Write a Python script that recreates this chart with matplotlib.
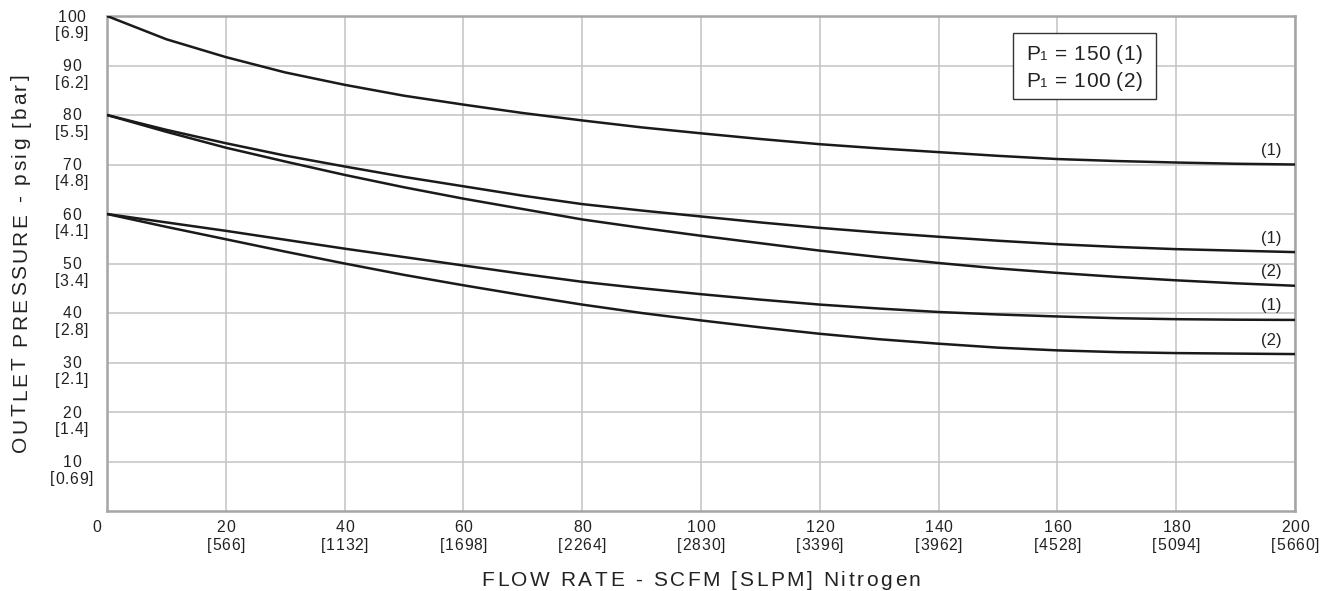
import matplotlib
matplotlib.use("Agg")
import matplotlib.pyplot as plt
from matplotlib.font_manager import FontProperties, findfont, get_font
from matplotlib.transforms import IdentityTransform
from matplotlib.patches import Rectangle

# ---------------- data ----------------
flow_scfm = [0, 10, 20, 30, 40, 50, 60, 70, 80, 90, 100, 110, 120, 130, 140, 150, 160, 170, 180, 190, 200]
p150_set100 = [100, 95.3, 91.7, 88.6, 86.1, 83.9, 82.1, 80.4, 78.9, 77.5, 76.3, 75.15, 74.1, 73.25, 72.5, 71.75, 71.1, 70.7, 70.4, 70.15, 70.0]
p150_set80 = [80, 77.0, 74.3, 71.8, 69.6, 67.5, 65.6, 63.7, 62.0, 60.7, 59.5, 58.3, 57.2, 56.25, 55.4, 54.6, 53.9, 53.35, 52.9, 52.6, 52.3]
p100_set80 = [80, 76.6, 73.4, 70.6, 67.9, 65.4, 63.1, 61.0, 58.9, 57.2, 55.6, 54.1, 52.6, 51.3, 50.1, 49.0, 48.1, 47.3, 46.6, 46.0, 45.5]
p150_set60 = [60, 58.3, 56.6, 54.8, 53.0, 51.3, 49.6, 47.9, 46.3, 45.0, 43.8, 42.7, 41.7, 40.9, 40.2, 39.7, 39.3, 38.95, 38.75, 38.65, 38.6]
p100_set60 = [60, 57.4, 54.9, 52.4, 50.0, 47.7, 45.6, 43.6, 41.7, 40.0, 38.5, 37.1, 35.8, 34.7, 33.8, 33.0, 32.45, 32.1, 31.9, 31.8, 31.7]
series = [p150_set100, p150_set80, p100_set80, p150_set60, p100_set60]
series_tags = ["(1)", "(1)", "(2)", "(1)", "(2)"]

x_tick_vals = [20, 40, 60, 80, 100, 120, 140, 160, 180, 200]
x_tick_slpm = ["[566]", "[1132]", "[1698]", "[2264]", "[2830]", "[3396]", "[3962]", "[4528]", "[5094]", "[5660]"]
y_tick_vals = [10, 20, 30, 40, 50, 60, 70, 80, 90, 100]
y_tick_bar = ["[0.69]", "[1.4]", "[2.1]", "[2.8]", "[3.4]", "[4.1]", "[4.8]", "[5.5]", "[6.2]", "[6.9]"]
legend_lines = [("150", "(1)"), ("100", "(2)")]

x_title = "FLOW RATE - SCFM [SLPM] Nitrogen"
y_title = "OUTLET PRESSURE - psig [bar]"

# ---------------- figure ----------------
W, H = 1323, 591
DPI = 100
FAM = "Liberation Sans"
TXT = "#222222"
fig = plt.figure(figsize=(W / DPI, H / DPI), dpi=DPI)
ax = fig.add_axes([107 / W, 1 - 511 / H, 1188 / W, 495 / H])
ax.set_xlim(0, 200)
ax.set_ylim(0, 100)
ax.set_xticks(x_tick_vals)
ax.set_yticks(y_tick_vals)
ax.tick_params(length=0, labelbottom=False, labelleft=False)
ax.grid(True, color="#c2c2c2", lw=1.1, zorder=0)
for s in ax.spines.values():
    s.set_color("#a5a5a5")
    s.set_linewidth(1.8)

for ys in series:
    ax.plot(flow_scfm, ys, color="#1a1a1a", lw=1.8, zorder=3,
            solid_capstyle="butt", solid_joinstyle="round")

for ys, tag in zip(series, series_tags):
    ax.annotate(tag, xy=(196, ys[-1]), xytext=(0, 10.1), textcoords="offset points",
                ha="center", va="center", fontsize=12, family=FAM, color=TXT)


def place(s, x, y, size, spacing=0.0, align="center", rotation=0, color=TXT, zorder=3):
    """Draw text s in display pixels with extra letter spacing; (x, y) is the baseline anchor."""
    prop = FontProperties(family=FAM, size=size)
    f = get_font(findfont(prop))
    f.set_size(size, DPI)
    advs = []
    for c in s:
        g = f.load_char(ord(c))
        advs.append(g.linearHoriAdvance / 65536.0)
    total = sum(advs) + spacing * (len(s) - 1)
    if align == "center":
        start = -total / 2.0
    elif align == "right":
        start = -total
    else:
        start = 0.0
    pen = start
    for c, a in zip(s, advs):
        if c != " ":
            if rotation == 90:
                px, py = x, y + pen
            else:
                px, py = x + pen, y
            fig.text(px, py, c, transform=IdentityTransform(), fontproperties=prop,
                     ha="left", va="baseline", rotation=rotation, rotation_mode="anchor",
                     color=color, zorder=zorder)
        pen += a + spacing
    return total


# y tick labels
x_left, y_bottom = ax.transData.transform((0, 0))
for v, b in zip(y_tick_vals, y_tick_bar):
    _, yp = ax.transData.transform((0, v))
    place(str(v), x_left - 35.5, yp - 5.5, 11.3, spacing=0.8)
    place(b, x_left - 35.5, yp - 22.0, 11.3, spacing=0.8)

# x tick labels
place("0", x_left - 10, y_bottom - 20.5, 11.3, spacing=0.8)
for v, b in zip(x_tick_vals, x_tick_slpm):
    xp, _ = ax.transData.transform((v, 0))
    place(str(v), xp, y_bottom - 20.5, 11.3, spacing=0.8)
    place(b, xp, y_bottom - 39.0, 11.3, spacing=0.8)

# axis titles
place(x_title, 701, H - 586, 15, spacing=2.6)
place(y_title, 26, H - 263.5, 15, spacing=2.6, rotation=90)

# legend box
fig.patches.append(Rectangle((1013 / W, 1 - 99 / H), 143 / W, 66 / H, transform=fig.transFigure,
                             facecolor="white", edgecolor="#333333", lw=1.0, zorder=5))
for i, (p1, tag) in enumerate(legend_lines):
    by = H - (60 + 26.7 * i)
    xx = 1026
    w = place("P", xx, by, 15, align="left", zorder=6)
    xx += w + 0.5
    w = place("1", xx, by, 9.5, align="left", zorder=6)
    xx += w + 0.5
    place(" = " + p1 + " " + tag, xx, by, 15, spacing=0.5, align="left", zorder=6)

fig.savefig("out.png", dpi=DPI)
